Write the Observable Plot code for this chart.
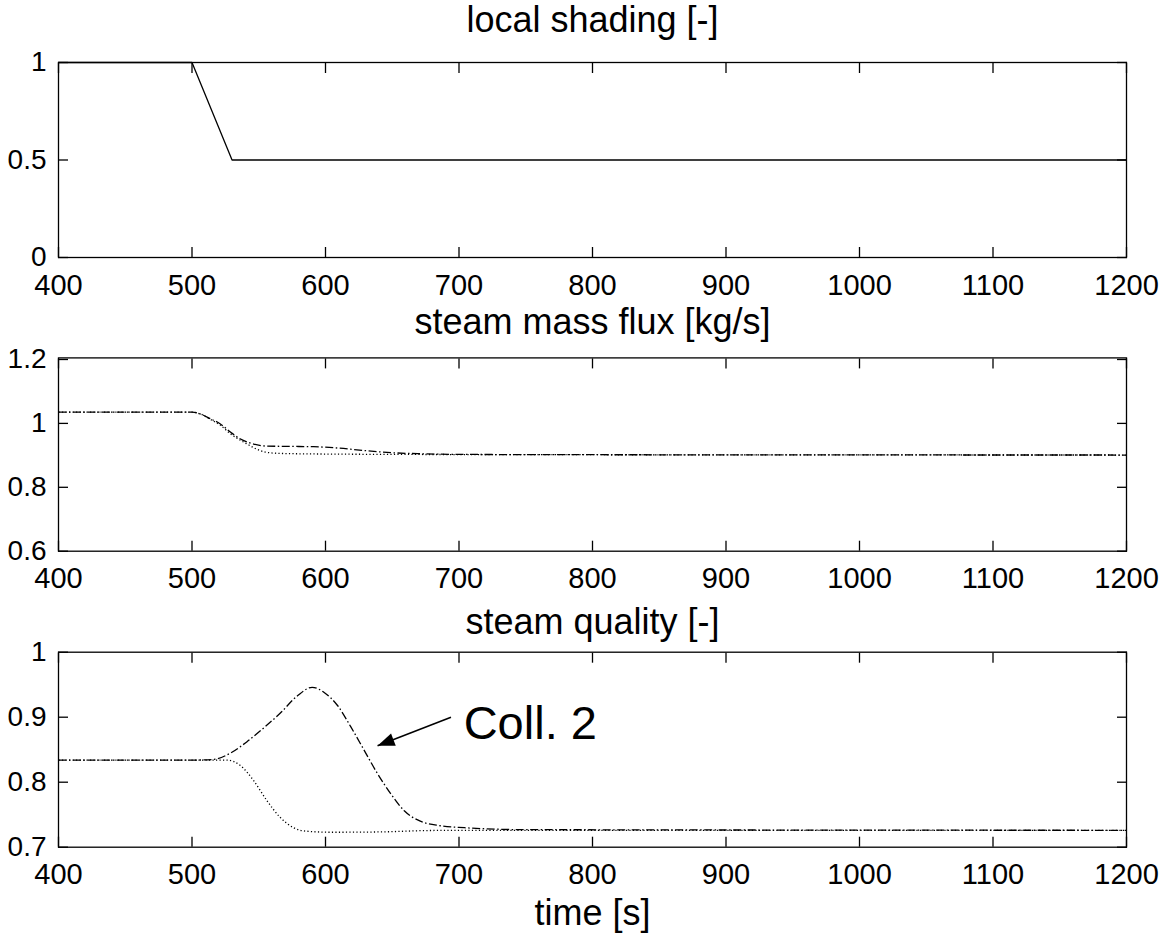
<!DOCTYPE html>
<html>
<head>
<meta charset="utf-8">
<script src="https://cdn.jsdelivr.net/npm/d3@7"></script>
<script src="https://cdn.jsdelivr.net/npm/@observablehq/plot@0.6"></script>
<style>
  html, body { margin: 0; padding: 0; background: #fff; }
  #chart { width: 1163px; height: 935px; position: relative; background: #fff; }
  #chart svg { display: block; }
</style>
</head>
<body>
<div id="chart"></div>
<script>
// ---------- data ----------
const xTicks = [400, 500, 600, 700, 800, 900, 1000, 1100, 1200];
const panelTitles = ["local shading [-]", "steam mass flux [kg/s]", "steam quality [-]"];
const xAxisLabel = "time [s]";

const yTicksShading = [0, 0.5, 1];
const yTicksFlux = [0.6, 0.8, 1, 1.2];
const yTicksQuality = [0.7, 0.8, 0.9, 1];

// local shading (solid)
const shadingTime  = [400, 500, 530, 1200];
const shadingValue = [1, 1, 0.5, 0.5];

// steam mass flux, Coll. 2 (dash-dot)
const fluxTimeA  = [400, 500, 506, 514, 521, 529, 536, 544, 556, 575, 591, 609, 629, 651, 671, 700, 800, 1200];
const fluxValueA = [1.035, 1.035, 1.030, 1.014, 0.999, 0.972, 0.952, 0.938, 0.929, 0.928, 0.927, 0.923, 0.915, 0.908, 0.905, 0.903, 0.902, 0.901];
// steam mass flux, other collector (dotted)
const fluxTimeB  = [400, 500, 506, 514, 521, 529, 541, 551, 561, 579, 650, 800, 1200];
const fluxValueB = [1.035, 1.035, 1.030, 1.012, 0.995, 0.967, 0.936, 0.915, 0.907, 0.905, 0.903, 0.902, 0.901];

// steam quality, Coll. 2 (dash-dot)
const qualityTimeA  = [400, 500, 516, 529, 541, 554, 566, 579, 590, 599, 609, 619, 629, 639, 649, 659, 671, 686, 704, 750, 1200];
const qualityValueA = [0.834, 0.834, 0.835, 0.845, 0.862, 0.884, 0.906, 0.933, 0.946, 0.938, 0.918, 0.885, 0.849, 0.813, 0.782, 0.756, 0.740, 0.733, 0.730, 0.727, 0.726];
// steam quality, other collector (dotted)
const qualityTimeB  = [400, 500, 526, 536, 546, 556, 566, 576, 586, 604, 641, 679, 720, 1200];
const qualityValueB = [0.834, 0.834, 0.834, 0.826, 0.803, 0.772, 0.746, 0.730, 0.7246, 0.723, 0.7235, 0.7257, 0.726, 0.726];

// annotation
const calloutText = "Coll. 2";
const calloutTextAt = {t: 703.5, v: 0.867};
const calloutArrow = {t1: 694, v1: 0.900, t2: 639, v2: 0.856};

// ---------- helpers ----------
const FONT = "'Liberation Sans', Arial, Helvetica, sans-serif";
const toRows = (ts, vs) => ts.map((t, i) => ({t, v: vs[i]}));
const fmt = d => String(d);

function frameAndAxes(yTicks) {
  return [
    Plot.frame({stroke: "black", strokeWidth: 1.3}),
    Plot.axisX(xTicks, {anchor: "bottom", tickSize: 0, tickPadding: 16.5, fontSize: 29, tickFormat: fmt, label: null}),
    Plot.axisY(yTicks, {anchor: "left", tickSize: 0, tickPadding: 12, fontSize: 28, tickFormat: fmt, label: null}),
    Plot.axisX(xTicks, {anchor: "bottom", tickSize: 10, dy: -10, fill: "none", label: null, strokeWidth: 1.3}),
    Plot.axisX(xTicks, {anchor: "top", tickSize: 10, dy: 10, fill: "none", label: null, strokeWidth: 1.3}),
    Plot.axisY(yTicks, {anchor: "left", tickSize: 10, dx: 10, fill: "none", label: null, strokeWidth: 1.3}),
    Plot.axisY(yTicks, {anchor: "right", tickSize: 10, dx: -10, fill: "none", label: null, strokeWidth: 1.3})
  ];
}

const dashDot = {stroke: "black", strokeWidth: 1.3, strokeDasharray: "8,2.5,1.5,2.5", curve: "monotone-x", strokeLinecap: "butt"};
const dotted  = {stroke: "black", strokeWidth: 1.3, strokeDasharray: "1.2,2.3", curve: "monotone-x", strokeLinecap: "butt"};

const baseStyle = {fontFamily: FONT, fontSize: "29px", background: "white", color: "black", overflow: "visible"};

function arrowMarker() {
  return d3.create("svg:marker")
    .attr("viewBox", "-19 -8 21 16")
    .attr("markerWidth", 21)
    .attr("markerHeight", 16)
    .attr("markerUnits", "userSpaceOnUse")
    .attr("refX", 0)
    .attr("refY", 0)
    .attr("orient", "auto")
    .call(m => m.append("path").attr("d", "M0,0L-17,-6.5L-17,6.5Z").attr("fill", "black").attr("stroke", "none"))
    .node();
}

// ---------- panel 1 ----------
const p1 = Plot.plot({
  width: 1163, height: 300,
  marginTop: 62, marginBottom: 43, marginLeft: 58, marginRight: 37,
  x: {domain: [400, 1200]},
  y: {domain: [0, 1]},
  style: baseStyle,
  marks: [
    Plot.line(toRows(shadingTime, shadingValue), {x: "t", y: "v", stroke: "black", strokeWidth: 1.3}),
    ...frameAndAxes(yTicksShading),
    Plot.text([panelTitles[0]], {text: d => d, frameAnchor: "top", dy: -31, lineAnchor: "bottom", fontSize: 36})
  ]
});

// ---------- panel 2 ----------
const p2 = Plot.plot({
  width: 1163, height: 300,
  marginTop: 57.4, marginBottom: 49.3, marginLeft: 58, marginRight: 37,
  x: {domain: [400, 1200]},
  y: {domain: [0.6, 1.205]},
  style: baseStyle,
  marks: [
    Plot.line(toRows(fluxTimeB, fluxValueB), {x: "t", y: "v", ...dotted}),
    Plot.line(toRows(fluxTimeA, fluxValueA), {x: "t", y: "v", ...dashDot}),
    ...frameAndAxes(yTicksFlux),
    Plot.text([panelTitles[1]], {text: d => d, frameAnchor: "top", dy: -24, lineAnchor: "bottom", fontSize: 36})
  ]
});

// ---------- panel 3 ----------
const p3 = Plot.plot({
  width: 1163, height: 335,
  marginTop: 51.7, marginBottom: 88.3, marginLeft: 58, marginRight: 37,
  x: {domain: [400, 1200]},
  y: {domain: [0.7, 1]},
  style: baseStyle,
  marks: [
    Plot.line(toRows(qualityTimeB, qualityValueB), {x: "t", y: "v", ...dotted}),
    Plot.line(toRows(qualityTimeA, qualityValueA), {x: "t", y: "v", ...dashDot}),
    ...frameAndAxes(yTicksQuality),
    Plot.link([calloutArrow], {x1: "t1", y1: "v1", x2: "t2", y2: "v2", stroke: "black", strokeWidth: 1.5, markerEnd: arrowMarker}),
    Plot.text([calloutTextAt], {x: "t", y: "v", text: () => calloutText, textAnchor: "start", lineAnchor: "bottom", fontSize: 47}),
    Plot.text([panelTitles[2]], {text: d => d, frameAnchor: "top", dy: -18.4, lineAnchor: "bottom", fontSize: 36}),
    Plot.text([xAxisLabel], {text: d => d, frameAnchor: "bottom", dy: 77.3, lineAnchor: "bottom", fontSize: 36})
  ]
});

const chart = document.getElementById("chart");
chart.append(p1, p2, p3);
</script>
</body>
</html>
